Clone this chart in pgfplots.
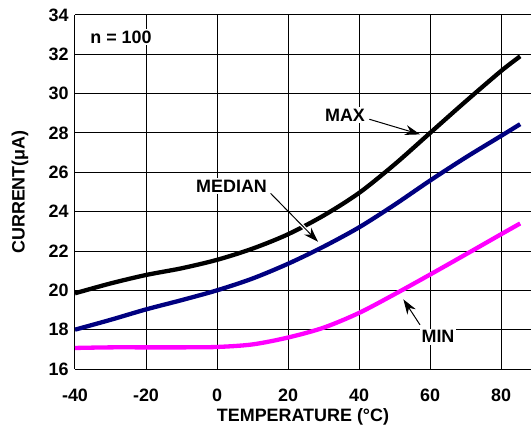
\documentclass[border=0pt]{standalone}
\usepackage{fontspec}
\setmainfont{Liberation Sans}
\usepackage{pgfplots}
\pgfplotsset{compat=1.18}
\usetikzlibrary{arrows.meta}
\definecolor{navyc}{RGB}{0,0,128}
\definecolor{magc}{RGB}{255,0,255}
\newcommand{\lblfont}{\fontsize{18}{20}\selectfont\bfseries}
\begin{document}
\begin{tikzpicture}
\begin{axis}[
 scale only axis, width=456bp, height=354bp,
 xmin=-40, xmax=88.45, ymin=16, ymax=34,
 xtick={-40,-20,0,20,40,60,80}, ytick={16,18,20,22,24,26,28,30,32,34},
 grid=major, major grid style={black, line width=1bp},
 axis line style={draw=none},
 major tick length=0pt,
 /pgf/number format/assume math mode=true,
 tick label style={font=\lblfont},
 xticklabel style={yshift=-16bp},
 yticklabel style={xshift=-3bp},
 xlabel={TEMPERATURE (°C)}, ylabel={CURRENT(μA)},
 label style={font=\lblfont},
 xlabel style={at={([yshift=-48bp]rel axis cs:0.5,0)}, anchor=center},
 ylabel style={at={([xshift=-55bp]rel axis cs:0,0.5)}, anchor=center},
 clip=true,
]
\addplot[black, line width=4.3bp, smooth] coordinates {
 (-40,19.85) (-30,20.35) (-20,20.78) (-10,21.12) (0,21.55) (10,22.12) (20,22.85)
 (30,23.8) (40,24.95) (50,26.4) (60,28.0) (70,29.6) (80,31.15) (85.4,31.9)};
\addplot[navyc, line width=4.3bp, smooth] coordinates {
 (-40,18.0) (-30,18.5) (-20,19.03) (-10,19.5) (0,20.0) (10,20.6) (20,21.35)
 (30,22.22) (40,23.2) (50,24.35) (60,25.58) (70,26.75) (80,27.85) (85.4,28.45)};
\addplot[magc, line width=4.3bp, smooth] coordinates {
 (-40,17.07) (-30,17.1) (-20,17.1) (-10,17.1) (0,17.12) (10,17.25) (20,17.6)
 (30,18.1) (40,18.85) (50,19.8) (60,20.8) (70,21.82) (80,22.85) (85.4,23.4)};
% annotations
\node[fill=white, inner sep=2bp, anchor=west, font=\lblfont] at (axis cs:-36.3,32.88) {n = 100};
\node[fill=white, inner sep=2bp, font=\lblfont] at (axis cs:36.06,28.92) {MAX};
\draw[line width=1bp, -{Stealth[length=15bp,width=10bp]}] (axis cs:42.9,28.7) -- (axis cs:57.2,27.93);
\node[fill=white, inner sep=2bp, font=\lblfont] at (axis cs:4.1,25.31) {MEDIAN};
\draw[white, line width=3.5bp] (axis cs:22.44,23.58) -- (axis cs:25.51,23.01);
\draw[line width=1bp, -{Stealth[length=15bp,width=10bp]}] (axis cs:15.1,24.93) -- (axis cs:28.45,22.47);
\node[fill=white, inner sep=2bp, font=\lblfont] at (axis cs:62.25,17.64) {MIN};
\draw[line width=1bp, -{Stealth[length=15bp,width=10bp]}] (axis cs:57.2,18.24) -- (axis cs:52.5,19.54);
\end{axis}
\pgfresetboundingbox
\path[use as bounding box] ([shift={(-75bp,-64bp)}]current axis.south west) rectangle ++(531bp,433bp);
\end{tikzpicture}
\end{document}
